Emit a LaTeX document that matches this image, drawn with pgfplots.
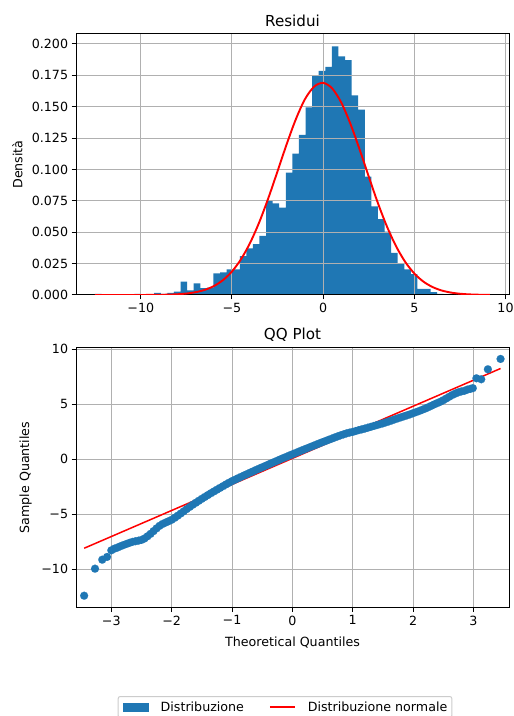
\documentclass[border=0pt]{standalone}
\usepackage{fontspec}
\setmainfont{DejaVu Sans}
\usepackage{pgfplots}
\pgfplotsset{compat=1.18}
\definecolor{mplblue}{HTML}{1F77B4}
\definecolor{gridgray}{HTML}{B0B0B0}
\pgfplotsset{
  mpl/.style={
    scale only axis, width=433bp, anchor=south west,
    axis line style={line width=1bp, black},
    tick align=outside, tick pos=left,
    major tick length=4.4bp,
    every tick/.style={line width=1bp, black},
    grid=major, major grid style={line width=1bp, color=gridgray},
    tick label style={font=\fontsize{12.7}{15.2}\selectfont, text=black},
    label style={font=\fontsize{12.7}{15.2}\selectfont},
    every axis title shift=0pt,
    title style={font=\fontsize{15.2}{18}\selectfont, at={(axis description cs:0.5,1.029)}, anchor=base, inner sep=0pt},
  }
}
\begin{document}
\begin{tikzpicture}[font=\fontsize{12.7}{15.2}\selectfont]
\path[use as bounding box] (0bp,0bp) rectangle (514bp,716bp);

% ---------- Histogram (bars + grid on top) ----------
\begin{axis}[mpl, at={(76bp,421bp)}, height=261bp,
  xmin=-13.55, xmax=10.19, ymin=0, ymax=0.2079,
  xtick={-10,-5,0,5,10}, xticklabels={−10,−5,0,5,10},
  ytick={0,0.025,0.05,0.075,0.1,0.125,0.15,0.175,0.2},
  yticklabels={0.000,0.025,0.050,0.075,0.100,0.125,0.150,0.175,0.200},
  axis on top,
  title={Residui},
  ylabel={Densità},
  ylabel style={at={(axis description cs:-0.1351,0.5)}, anchor=center},
]
\addplot[ybar interval, fill=mplblue, draw=none] table {
x y
-12.510 0.0008
-12.149 0
-11.788 0
-11.428 0
-11.067 0
-10.706 0
-10.345 0.0008
-9.984 0
-9.624 0
-9.263 0.0016
-8.902 0.0008
-8.541 0.0016
-8.180 0.0027
-7.820 0.0106
-7.459 0.0037
-7.098 0.0093
-6.737 0.0055
-6.376 0.0058
-6.016 0.0172
-5.655 0.0180
-5.294 0.0205
-4.933 0.0205
-4.572 0.0310
-4.212 0.0371
-3.851 0.0406
-3.490 0.0470
-3.129 0.0755
-2.768 0.0730
-2.408 0.0695
-2.047 0.0974
-1.686 0.1127
-1.325 0.1275
-0.964 0.1495
-0.604 0.1745
-0.243 0.1785
0.118 0.1817
0.479 0.1980
0.840 0.1900
1.200 0.1870
1.561 0.1590
1.922 0.1477
2.283 0.0942
2.644 0.0705
3.004 0.0605
3.365 0.0504
3.726 0.0335
4.087 0.0252
4.448 0.0204
4.808 0.0167
5.169 0.0048
5.530 0.0048
5.891 0.0022
6.252 0.0008
6.612 0.0005
6.973 0.0008
7.334 0.0008
7.695 0.0005
8.056 0.0005
8.416 0
8.777 0.0003
9.138 0
};
\end{axis}

% ---------- Overlay: normal curve + legend ----------
\begin{axis}[mpl, at={(76bp,421bp)}, height=261bp,
  xmin=-13.55, xmax=10.19, ymin=0, ymax=0.2079,
  hide axis,
  legend columns=2,
  legend cell align=left,
  legend style={at={(axis description cs:0.4827,-1.5364)}, anchor=north,
    draw=black!20, line width=1bp, rounded corners=2bp, fill=white,
    font=\fontsize{12.7}{15.2}\selectfont,
    inner xsep=4.5bp, inner ysep=5bp,
    nodes={inner sep=0pt},
    /tikz/every even column/.append style={column sep=25bp}},
]
\addlegendimage{legend image code/.code={\fill[mplblue, sharp corners] (0bp,-4bp) rectangle (25bp,4bp); \path (37bp,0bp);}}
\addlegendentry{Distribuzione}
\addplot[red, line width=1.9bp, smooth,
  legend image code/.code={\draw[red, line width=1.9bp, sharp corners] (0bp,0bp) -- (25bp,0bp); \path (37bp,0bp);}] coordinates {
(-12.51,0) (-11.5,0.000001) (-10.5,0.000007) (-10,0.00002) (-9.5,0.00006) (-9,0.00013)
(-8.5,0.00029) (-8,0.00058) (-7.5,0.00116) (-7,0.00221) (-6.5,0.00404)
(-6,0.00704) (-5.5,0.01175) (-5,0.01873) (-4.5,0.02856) (-4,0.04166)
(-3.5,0.05807) (-3,0.07738) (-2.5,0.0986) (-2,0.1201) (-1.5,0.1399)
(-1,0.1559) (-0.5,0.1659) (0,0.1690) (0.5,0.1645) (1,0.1531)
(1.5,0.1362) (2,0.1159) (2.5,0.0943) (3,0.0733) (3.5,0.0545)
(4,0.0388) (4.5,0.02635) (5,0.01712) (5.5,0.01064) (6,0.00633)
(6.5,0.00359) (7,0.00195) (7.5,0.00101) (8,0.0005) (8.5,0.00024) (9.14,0.00009)
};
\addlegendentry{Distribuzione normale}
\end{axis}

% ---------- QQ plot ----------
\begin{axis}[mpl, at={(76bp,108.3bp)}, height=260.4bp,
  xmin=-3.585, xmax=3.59, ymin=-13.52, ymax=10.18,
  xtick={-3,-2,-1,0,1,2,3}, xticklabels={−3,−2,−1,0,1,2,3},
  ytick={-10,-5,0,5,10}, yticklabels={−10,−5,0,5,10},
  title={QQ Plot},
  xlabel={Theoretical Quantiles},
  ylabel={Sample Quantiles},
  xlabel style={at={(axis description cs:0.5,-0.149)}, anchor=base},
  ylabel style={at={(axis description cs:-0.1162,0.5)}, anchor=center},
]
\addplot[only marks, mark=*, mark size=4bp, color=mplblue, mark options={fill=mplblue, draw=mplblue, line width=0.1bp}] table {
q s
-3.45 -12.43
-3.27 -9.97
-3.15 -9.15
-3.07 -8.90
-3.00 -8.30
-2.95 -8.15
-2.90 -8.05
-2.85 -7.93
-2.80 -7.82
-2.75 -7.72
-2.70 -7.62
-2.65 -7.53
-2.60 -7.47
-2.55 -7.42
-2.50 -7.35
-2.45 -7.22
-2.40 -7.02
-2.35 -6.80
-2.30 -6.55
-2.25 -6.30
-2.20 -6.07
-2.15 -5.90
-2.10 -5.77
-2.05 -5.65
-2.00 -5.52
-1.95 -5.34
-1.90 -5.15
-1.85 -4.95
-1.80 -4.75
-1.75 -4.54
-1.70 -4.34
-1.65 -4.15
-1.60 -3.97
-1.55 -3.79
-1.50 -3.61
-1.45 -3.44
-1.40 -3.27
-1.35 -3.10
-1.30 -2.94
-1.25 -2.78
-1.20 -2.62
-1.15 -2.46
-1.10 -2.30
-1.05 -2.15
-1.00 -2.00
-0.95 -1.87
-0.90 -1.74
-0.85 -1.61
-0.80 -1.48
-0.75 -1.36
-0.70 -1.23
-0.65 -1.11
-0.60 -0.98
-0.55 -0.86
-0.50 -0.74
-0.45 -0.62
-0.40 -0.50
-0.35 -0.38
-0.30 -0.26
-0.25 -0.14
-0.20 -0.02
-0.15 0.10
-0.10 0.21
-0.05 0.33
0.00 0.44
0.05 0.55
0.10 0.67
0.15 0.78
0.20 0.89
0.25 1.00
0.30 1.11
0.35 1.22
0.40 1.33
0.45 1.44
0.50 1.55
0.55 1.65
0.60 1.76
0.65 1.86
0.70 1.97
0.75 2.07
0.80 2.17
0.85 2.26
0.90 2.35
0.95 2.42
1.00 2.48
1.05 2.56
1.10 2.64
1.15 2.71
1.20 2.78
1.25 2.86
1.30 2.94
1.35 3.02
1.40 3.10
1.45 3.18
1.50 3.26
1.55 3.35
1.60 3.44
1.65 3.53
1.70 3.63
1.75 3.72
1.80 3.81
1.85 3.90
1.90 3.99
1.95 4.08
2.00 4.18
2.05 4.28
2.10 4.38
2.15 4.49
2.20 4.60
2.25 4.72
2.30 4.85
2.35 4.98
2.40 5.10
2.45 5.22
2.50 5.36
2.55 5.52
2.60 5.68
2.65 5.84
2.70 5.97
2.75 6.08
2.80 6.16
2.85 6.22
2.90 6.33
2.95 6.40
2.99 6.46
3.05 7.36
3.13 7.27
3.24 8.18
3.45 9.12
};
\addplot[red, line width=1.5bp] coordinates {(-3.45,-8.11) (3.45,8.25)};
\end{axis}
\end{tikzpicture}
\end{document}
